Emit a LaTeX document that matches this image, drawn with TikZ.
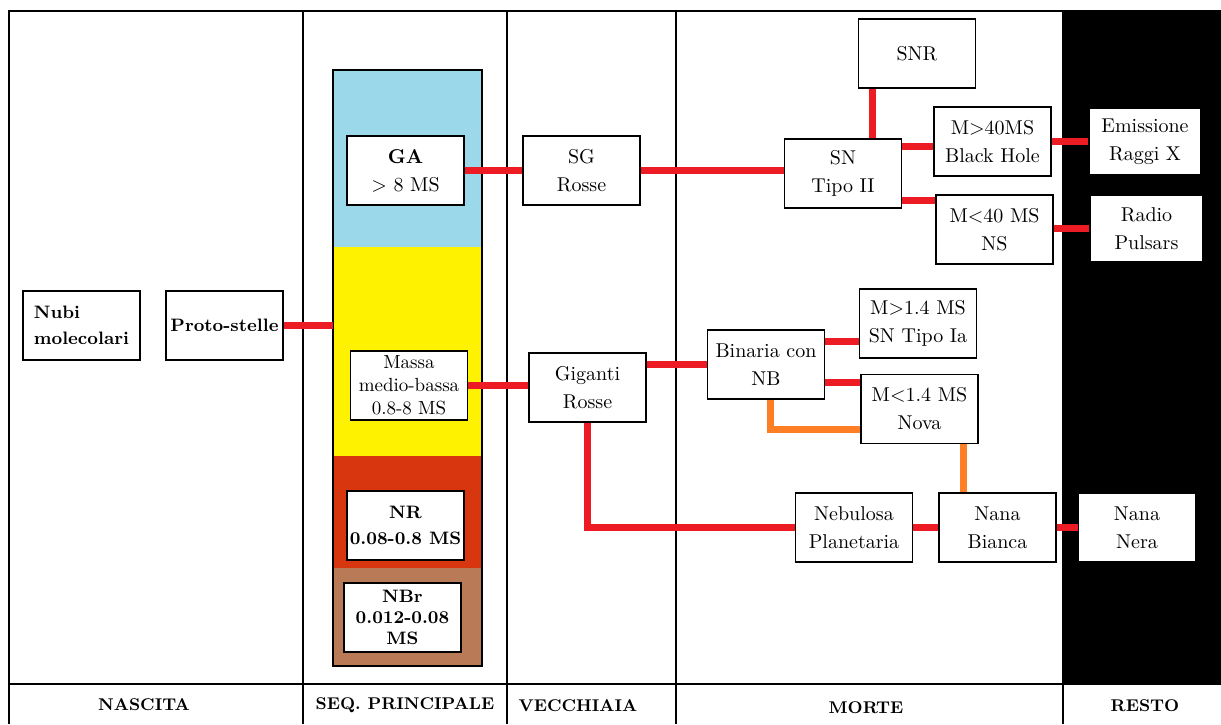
\documentclass[tikz,border=0pt]{standalone}
\usetikzlibrary{calc}

\definecolor{linkred}{RGB}{237,28,36}
\definecolor{novaorange}{RGB}{255,127,39}
\definecolor{bandblue}{RGB}{155,217,234}
\definecolor{bandyellow}{RGB}{255,242,0}
\definecolor{bandred}{RGB}{216,54,14}
\definecolor{bandbrown}{RGB}{185,122,87}

\begin{document}
\begin{tikzpicture}[
        x=0.5pt, y=-0.5pt,
        font=\fontsize{10}{14}\selectfont,
        stage/.style={
            rectangle, draw=black, line width=0.9pt,
            fill=white, minimum width=58.5pt,
            minimum height=34.5pt, align=center, inner sep=1pt
        },
        boldstage/.style={
            stage, font=\fontsize{9}{13}\selectfont\bfseries
        },
        band/.style={
            rectangle, draw=none, anchor=north west,
            minimum width=74pt, inner sep=0pt
        },
        rule/.style={line width=0.8pt},
        link/.style={draw=linkred, line width=3.5pt},
        novalink/.style={draw=novaorange, line width=3.5pt},
        phase/.style={font=\fontsize{8.5}{11}\selectfont\bfseries}
    ]
    \useasboundingbox (0,0) rectangle (1221,724);

    % Frame and columns
    \fill[black] (1063,11) rectangle (1221,684);
    \draw[rule] (9,724) -- (9,11) -- (1221,11);
    \draw[rule] (9,684) -- (1221,684);
    \foreach \x in {303,507,676,1063}
        \draw[rule] (\x,11) -- (\x,724);

    % Phase labels
    \node[phase] (nascita) at (144,705) {NASCITA};
    \node[phase] (seq) at (405,705) {SEQ. PRINCIPALE};
    \node[phase] (vecchiaia) at (578,706) {VECCHIAIA};
    \node[phase] (morte) at (866,708) {MORTE};
    \node[phase] (resto) at (1145,706) {RESTO};

    % Main sequence bar
    \node[band, fill=bandblue, minimum height=88.5pt] (blueband) at (333,70) {};
    \node[band, fill=bandyellow, minimum height=104.5pt] (yellowband) at (333,247) {};
    \node[band, fill=bandred, minimum height=56pt] (redband) at (333,456) {};
    \node[band, fill=bandbrown, minimum height=48.5pt] (brownband) at (333,568) {};
    \draw[line width=0.9pt] (blueband.north west) rectangle (brownband.south east);

    % Birth
    \node[boldstage, align=left] (nubi) at (81.5,325.5) {Nubi\\molecolari};
    \node[boldstage] (proto) at (224.5,325.5) {Proto-stelle};

    % Main sequence
    \node[stage] (ga) at (405.5,170.5) {\textbf{GA}\\> 8 MS};
    \node[stage, font=\fontsize{9.5}{11.5}\selectfont] (massa) at (409,385.5) {Massa\\medio-bassa\\0.8-8 MS};
    \node[boldstage] (nr) at (405.5,525.5) {NR\\0.08-0.8 MS};
    \node[boldstage, font=\fontsize{9}{10.5}\selectfont\bfseries] (nbr) at (402.5,617.5) {NBr\\0.012-0.08\\MS};

    % Old age
    \node[stage] (sg) at (581.5,170.5) {SG\\Rosse};
    \node[stage] (giganti) at (587.5,387.5) {Giganti\\Rosse};

    % Death
    \node[stage] (snr) at (917,53.5) {SNR};
    \node[stage] (sn) at (843,173.5) {SN\\Tipo II};
    \node[stage] (bh) at (992.5,141.5) {M>40MS\\Black Hole};
    \node[stage] (ns) at (994.5,229.5) {M<40 MS\\NS};
    \node[stage] (ia) at (918,323.5) {M>1.4 MS\\SN Tipo Ia};
    \node[stage] (binaria) at (766,364.5) {Binaria con\\NB};
    \node[stage] (nova) at (919.5,409) {M<1.4 MS\\Nova};
    \node[stage] (nebulosa) at (854,527.5) {Nebulosa\\Planetaria};
    \node[stage] (bianca) at (997.5,527.5) {Nana\\Bianca};

    % Remnants
    \node[stage, minimum width=56pt, minimum height=33.5pt] (raggi) at (1145,141.5) {Emissione\\Raggi X};
    \node[stage, minimum width=56.5pt, minimum height=33.5pt] (radio) at (1146.5,228.5) {Radio\\Pulsars};
    \node[stage] (nera) at (1137,527.5) {Nana\\Nera};

    % Links
    \draw[link] (proto.east) -- (proto.east -| yellowband.west);
    \draw[link] (ga.east) -- (sg.west);
    \draw[link] (sg.east) -- (sg.east -| sn.west);
    \draw[link] ($(sn.north)!.5!(sn.north east)$) coordinate (snup) -- (snup |- snr.south);
    \draw[link] ($(bh.west)+(0,5)$) coordinate (bhin) -- (bhin -| sn.east);
    \draw[link] ($(ns.north west)+(0,6)$) coordinate (nsin) -- (nsin -| sn.east);
    \draw[link] (bh.east) -- (bh.east -| raggi.west);
    \draw[link] (radio.west) -- (radio.west -| ns.east);
    \draw[link] (massa.east) -- (massa.east -| giganti.west);
    \draw[link] (binaria.west) -- (binaria.west -| giganti.east);
    \draw[link] ($(binaria.north east)+(0,12)$) coordinate (binup) -- (binup -| ia.west);
    \draw[link] ($(nova.north west)+(0,9)$) coordinate (novain) -- (novain -| binaria.east);
    \draw[link] (giganti.south) |- (nebulosa.west);
    \draw[link] (nebulosa.east) -- (bianca.west);
    \draw[link] (bianca.east) -- (nera.west);

    % Nova path
    \draw[novalink] ($(binaria.south)+(4,0)$) |- ($(nova.south west)+(0,-15)$);
    \draw[novalink] ($(bianca.north west)+(25,0)$) coordinate (bup) -- (bup |- nova.south);

    \end{tikzpicture}
\end{document}
